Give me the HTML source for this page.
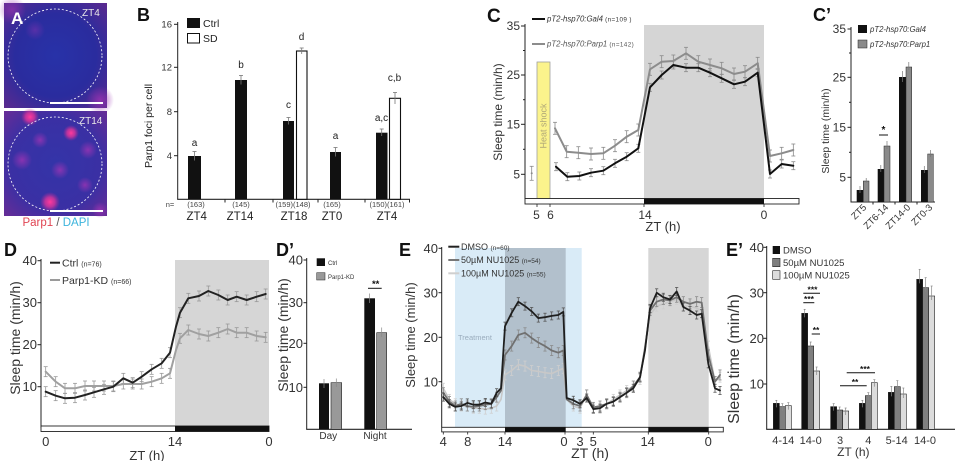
<!DOCTYPE html>
<html><head><meta charset="utf-8">
<style>
html,body{margin:0;padding:0;background:#fff;}
svg{display:block;font-family:"Liberation Sans",Arial,sans-serif;}
</style></head><body>
<svg id="s" width="958" height="461" viewBox="0 0 958 461" xmlns="http://www.w3.org/2000/svg">
<defs>
<radialGradient id="ga" cx="50%" cy="50%" r="72%">
 <stop offset="0" stop-color="#2832a8"/>
 <stop offset="0.55" stop-color="#2a2c9e"/>
 <stop offset="1" stop-color="#5e2a8e"/>
</radialGradient>
<radialGradient id="gb" cx="50%" cy="50%" r="72%">
 <stop offset="0" stop-color="#3434a8"/>
 <stop offset="0.6" stop-color="#3a30a4"/>
 <stop offset="1" stop-color="#6a2c96"/>
</radialGradient>
<radialGradient id="pk"><stop offset="0" stop-color="#ff3a9c" stop-opacity="1"/><stop offset="0.5" stop-color="#f0349a" stop-opacity="0.7"/><stop offset="1" stop-color="#c02c9a" stop-opacity="0"/></radialGradient>
<radialGradient id="pp"><stop offset="0" stop-color="#9c34b4" stop-opacity="0.8"/><stop offset="1" stop-color="#9c34b4" stop-opacity="0"/></radialGradient>
</defs>

<!-- ===== Panel A ===== -->
<rect x="4" y="3" width="103" height="105" fill="url(#ga)"/>
<circle cx="12" cy="10" r="14" fill="url(#pp)" opacity="0.8"/>
<circle cx="100" cy="100" r="14" fill="url(#pp)"/>
<circle cx="35" cy="30" r="10" fill="url(#pp)" opacity="0.5"/>
<circle cx="55" cy="56" r="47" fill="none" stroke="#fff" stroke-width="0.8" stroke-dasharray="2,2"/>
<line x1="50" y1="103" x2="103" y2="103" stroke="#fff" stroke-width="2"/>
<text x="11" y="24" font-size="17" font-weight="bold" fill="#fff">A</text>
<text x="82" y="16" font-size="10" fill="#e8e8e8">ZT4</text>

<rect x="4" y="111" width="103" height="105" fill="url(#gb)"/>
<circle cx="30" cy="117" r="9" fill="url(#pk)"/>
<circle cx="71" cy="133" r="8" fill="url(#pk)"/>
<circle cx="50" cy="202" r="10" fill="url(#pk)"/>
<circle cx="22" cy="160" r="10" fill="url(#pp)"/>
<circle cx="88" cy="150" r="9" fill="url(#pp)"/>
<circle cx="60" cy="170" r="9" fill="url(#pp)"/>
<circle cx="85" cy="185" r="8" fill="url(#pp)"/>
<circle cx="40" cy="140" r="8" fill="url(#pp)"/>
<circle cx="100" cy="210" r="8" fill="url(#pp)"/>
<circle cx="55" cy="164" r="47" fill="none" stroke="#fff" stroke-width="0.8" stroke-dasharray="2,2"/>
<line x1="50" y1="211" x2="103" y2="211" stroke="#fff" stroke-width="2"/>
<text x="79" y="124" font-size="10" fill="#e8e8e8">ZT14</text>
<text x="56" y="226" font-size="11.5" text-anchor="middle"><tspan fill="#e04452">Parp1</tspan><tspan fill="#555"> / </tspan><tspan fill="#3cb4dc">DAPI</tspan></text>

<!-- ===== Panel B ===== -->
<text x="137" y="21" font-size="18" font-weight="bold" fill="#111">B</text>
<line x1="177.7" y1="22" x2="177.7" y2="199.3" stroke="#222" stroke-width="1"/>
<line x1="177.2" y1="199.3" x2="410" y2="199.3" stroke="#222" stroke-width="1.2"/>
<g stroke="#222" stroke-width="1">
<line x1="174" y1="24.3" x2="177.7" y2="24.3"/><line x1="174" y1="67.3" x2="177.7" y2="67.3"/>
<line x1="174" y1="111.7" x2="177.7" y2="111.7"/><line x1="174" y1="155.7" x2="177.7" y2="155.7"/>
<line x1="225" y1="199.3" x2="225" y2="202.5"/><line x1="273" y1="199.3" x2="273" y2="202.5"/>
<line x1="318" y1="199.3" x2="318" y2="202.5"/><line x1="365" y1="199.3" x2="365" y2="202.5"/>
<line x1="409.5" y1="199.3" x2="409.5" y2="202.5"/>
</g>
<g font-size="9.5" fill="#333" text-anchor="end">
<text x="172" y="27.5">16</text><text x="172" y="70.5">12</text><text x="172" y="115">8</text><text x="172" y="159">4</text>
</g>
<text transform="translate(152,126) rotate(-90)" font-size="10.5" fill="#222" text-anchor="middle">Parp1 foci per cell</text>
<rect x="187" y="18" width="13" height="10" fill="#111"/>
<text x="203" y="27" font-size="10.5" fill="#222">Ctrl</text>
<rect x="187.5" y="33.5" width="12" height="9.5" fill="#fff" stroke="#111" stroke-width="1"/>
<text x="203" y="42" font-size="10.5" fill="#222">SD</text>
<g fill="#111">
<rect x="188" y="156" width="13" height="43.3"/>
<rect x="235" y="80" width="12" height="119.3"/>
<rect x="283" y="121" width="11" height="78.3"/>
<rect x="330" y="152" width="11" height="47.3"/>
<rect x="376" y="132.7" width="11.5" height="66.6"/>
</g>
<g fill="#fff" stroke="#111" stroke-width="1.1">
<rect x="296.5" y="51" width="10.5" height="148.3"/>
<rect x="389.5" y="98.3" width="11" height="101"/>
</g>
<g stroke="#777" stroke-width="0.8">
<line x1="194.5" y1="151.5" x2="194.5" y2="160.5"/><line x1="192.5" y1="151.5" x2="196.5" y2="151.5"/>
<line x1="241" y1="75.5" x2="241" y2="84.5"/><line x1="239" y1="75.5" x2="243" y2="75.5"/>
<line x1="288.5" y1="117.5" x2="288.5" y2="124.5"/><line x1="286.5" y1="117.5" x2="290.5" y2="117.5"/>
<line x1="301.7" y1="48" x2="301.7" y2="54"/><line x1="299.7" y1="48" x2="303.7" y2="48"/>
<line x1="335.5" y1="147.5" x2="335.5" y2="156.5"/><line x1="333.5" y1="147.5" x2="337.5" y2="147.5"/>
<line x1="381.7" y1="129" x2="381.7" y2="136"/><line x1="379.7" y1="129" x2="383.7" y2="129"/>
<line x1="395" y1="92.5" x2="395" y2="104"/><line x1="393" y1="92.5" x2="397" y2="92.5"/>
</g>
<g font-size="10" fill="#222" text-anchor="middle">
<text x="194.5" y="146">a</text><text x="241" y="68">b</text><text x="288.5" y="108">c</text>
<text x="301.5" y="40">d</text><text x="335.5" y="139">a</text><text x="381.5" y="121">a,c</text><text x="394.5" y="81">c,b</text>
</g>
<g font-size="7.5" fill="#444" text-anchor="middle">
<text x="170" y="207">n=</text><text x="196" y="207">(163)</text><text x="241" y="207">(145)</text>
<text x="293" y="207">(159)(148)</text><text x="332" y="207">(165)</text><text x="387" y="207">(150)(161)</text>
</g>
<g font-size="11.5" fill="#222" text-anchor="middle">
<text x="196.7" y="220">ZT4</text><text x="240" y="220">ZT14</text><text x="294" y="220">ZT18</text>
<text x="332" y="220">ZT0</text><text x="387" y="220">ZT4</text>
</g>

<!-- ===== Panel C ===== -->
<text x="487" y="22" font-size="19" font-weight="bold" fill="#111">C</text>
<rect x="644" y="25" width="120" height="174" fill="#d5d5d5"/>
<rect x="537" y="62" width="13" height="137" fill="#fbf38c" stroke="#a0a0a0" stroke-width="0.8"/>
<text transform="translate(546.5,126) rotate(-90)" font-size="9" fill="#b0a878" text-anchor="middle">Heat shock</text>
<line x1="525" y1="24" x2="525" y2="199" stroke="#222" stroke-width="1"/>
<g stroke="#222" stroke-width="1">
<line x1="521" y1="26" x2="525" y2="26"/><line x1="521" y1="75" x2="525" y2="75"/>
<line x1="521" y1="124.3" x2="525" y2="124.3"/><line x1="521" y1="174.3" x2="525" y2="174.3"/>
<line x1="523" y1="50.5" x2="525" y2="50.5"/><line x1="523" y1="99.7" x2="525" y2="99.7"/><line x1="523" y1="149.3" x2="525" y2="149.3"/>
</g>
<g font-size="12" fill="#333" text-anchor="end">
<text x="520" y="30">35</text><text x="520" y="79">25</text><text x="520" y="128.5">15</text><text x="520" y="178.5">5</text>
</g>
<text transform="translate(502,112) rotate(-90)" font-size="12" fill="#333" text-anchor="middle">Sleep time (min/h)</text>
<rect x="525" y="198.5" width="274" height="5.5" fill="#fff" stroke="#222" stroke-width="0.9"/>
<rect x="644" y="198.5" width="120" height="5.5" fill="#111"/>
<g stroke="#222" stroke-width="0.8">
<line x1="537" y1="204" x2="537" y2="207"/><line x1="550" y1="204" x2="550" y2="207"/>
<line x1="644" y1="204" x2="644" y2="207"/><line x1="764" y1="204" x2="764" y2="207"/>
</g>
<g font-size="12" fill="#333" text-anchor="middle">
<text x="536.5" y="219">5</text><text x="550.5" y="219">6</text><text x="645" y="219">14</text><text x="764" y="219">0</text>
<text x="663" y="231" font-size="13">ZT (h)</text>
</g>
<g id="cdata"></g>
<line x1="532" y1="19" x2="545" y2="19" stroke="#111" stroke-width="2"/>
<text x="547" y="21.7" font-size="7.8" font-style="italic" fill="#333">pT2-hsp70:Gal4 <tspan font-size="6.3" font-style="normal" letter-spacing="0.4">(n=109 )</tspan></text>
<line x1="532" y1="44" x2="545" y2="44" stroke="#8c8c8c" stroke-width="2"/>
<text x="547" y="46.7" font-size="7.8" font-style="italic" fill="#555">pT2-hsp70:Parp1 <tspan font-size="6.3" font-style="normal" letter-spacing="0.4">(n=142)</tspan></text>

<!-- ===== Panel C' ===== -->
<text x="813" y="21" font-size="18" font-weight="bold" fill="#111">C’</text>
<line x1="851" y1="27" x2="851" y2="202" stroke="#222" stroke-width="1"/>
<line x1="850.5" y1="202" x2="935" y2="202" stroke="#222" stroke-width="1.1"/>
<g stroke="#222" stroke-width="1">
<line x1="847.5" y1="29" x2="851" y2="29"/><line x1="847.5" y1="77.3" x2="851" y2="77.3"/>
<line x1="847.5" y1="127.3" x2="851" y2="127.3"/><line x1="847.5" y1="177.3" x2="851" y2="177.3"/>
<line x1="849" y1="53" x2="851" y2="53"/><line x1="849" y1="102.3" x2="851" y2="102.3"/><line x1="849" y1="152.3" x2="851" y2="152.3"/>
<line x1="873" y1="202" x2="873" y2="204.5"/><line x1="895" y1="202" x2="895" y2="204.5"/><line x1="917" y1="202" x2="917" y2="204.5"/>
</g>
<g font-size="12" fill="#333" text-anchor="end">
<text x="846" y="33">35</text><text x="846" y="81.5">25</text><text x="846" y="131.5">15</text><text x="846" y="181.5">5</text>
</g>
<text transform="translate(829,131) rotate(-90)" font-size="10.5" fill="#333" text-anchor="middle">Sleep time (min/h)</text>
<rect x="858" y="25" width="9" height="8" fill="#111"/>
<text x="870" y="32" font-size="7.8" font-style="italic" fill="#333">pT2-hsp70:Gal4</text>
<rect x="858" y="40" width="9" height="8" fill="#8a8a8a" stroke="#222" stroke-width="0.5"/>
<text x="870" y="47" font-size="7.8" font-style="italic" fill="#333">pT2-hsp70:Parp1</text>
<g fill="#111">
<rect x="856.7" y="190" width="6.6" height="12"/>
<rect x="877.7" y="169" width="6.3" height="33"/>
<rect x="899" y="77" width="7" height="125"/>
<rect x="921" y="170" width="6.7" height="32"/>
</g>
<g fill="#8a8a8a" stroke="#222" stroke-width="0.5">
<rect x="863.3" y="181" width="5.7" height="21"/>
<rect x="884" y="146" width="6" height="56"/>
<rect x="906" y="67" width="5.7" height="135"/>
<rect x="927.7" y="154" width="5.6" height="48"/>
</g>
<g stroke="#777" stroke-width="0.7">
<line x1="860" y1="186" x2="860" y2="193"/><line x1="866.2" y1="178" x2="866.2" y2="183"/>
<line x1="880.8" y1="165" x2="880.8" y2="172"/><line x1="887" y1="141" x2="887" y2="149"/>
<line x1="902.5" y1="71" x2="902.5" y2="82"/><line x1="908.8" y1="62" x2="908.8" y2="70"/>
<line x1="924.3" y1="166" x2="924.3" y2="173"/><line x1="930.5" y1="150" x2="930.5" y2="157"/>
</g>
<line x1="879" y1="135" x2="888" y2="135" stroke="#111" stroke-width="1"/>
<text x="883.5" y="133" font-size="10" font-weight="bold" fill="#111" text-anchor="middle">*</text>
<g font-size="9.5" fill="#333" text-anchor="end">
<text transform="translate(867,208) rotate(-45)">ZT5</text>
<text transform="translate(889,208) rotate(-45)">ZT6-14</text>
<text transform="translate(911,208) rotate(-45)">ZT14-0</text>
<text transform="translate(933,208) rotate(-45)">ZT0-3</text>
</g>

<!-- ===== Panel D ===== -->
<text x="4" y="256" font-size="18" font-weight="bold" fill="#111">D</text>
<rect x="175" y="260" width="94" height="166" fill="#d6d6d6"/>
<line x1="41" y1="259" x2="41" y2="428" stroke="#222" stroke-width="1"/>
<g stroke="#222" stroke-width="1">
<line x1="37.5" y1="260.7" x2="41" y2="260.7"/><line x1="37.5" y1="302.7" x2="41" y2="302.7"/>
<line x1="37.5" y1="344.7" x2="41" y2="344.7"/><line x1="37.5" y1="386.7" x2="41" y2="386.7"/>
</g>
<g font-size="13" fill="#333" text-anchor="end">
<text x="37" y="265">40</text><text x="37" y="307">30</text><text x="37" y="349">20</text><text x="37" y="391">10</text>
</g>
<text transform="translate(20,338) rotate(-90)" font-size="14" fill="#333" text-anchor="middle">Sleep time (min/h)</text>
<rect x="41" y="426" width="228" height="5.5" fill="#fff" stroke="#222" stroke-width="0.9"/>
<rect x="175" y="426" width="94" height="5.5" fill="#111"/>
<g font-size="13" fill="#333" text-anchor="middle">
<text x="45.7" y="446">0</text><text x="175" y="446">14</text><text x="269" y="446">0</text>
<text x="147" y="460">ZT (h)</text>
</g>
<g id="ddata"></g>
<line x1="50" y1="262.7" x2="60" y2="262.7" stroke="#222" stroke-width="2"/>
<text x="62" y="266.5" font-size="10.5" fill="#333">Ctrl <tspan font-size="7">(n=76)</tspan></text>
<line x1="50" y1="280" x2="60" y2="280" stroke="#9a9a9a" stroke-width="2"/>
<text x="62" y="284" font-size="10.5" fill="#333">Parp1-KD <tspan font-size="7">(n=66)</tspan></text>

<!-- ===== Panel D' ===== -->
<text x="276" y="256" font-size="18" font-weight="bold" fill="#111">D’</text>
<line x1="306.7" y1="258" x2="306.7" y2="429.3" stroke="#222" stroke-width="1"/>
<line x1="306.2" y1="429.3" x2="412" y2="429.3" stroke="#222" stroke-width="1.1"/>
<g stroke="#222" stroke-width="1">
<line x1="303.5" y1="260" x2="306.7" y2="260"/><line x1="303.5" y1="302.7" x2="306.7" y2="302.7"/>
<line x1="303.5" y1="343.3" x2="306.7" y2="343.3"/><line x1="303.5" y1="387.3" x2="306.7" y2="387.3"/>
</g>
<g font-size="13" fill="#333" text-anchor="end">
<text x="303" y="264.5">40</text><text x="303" y="307">30</text><text x="303" y="348">20</text><text x="303" y="392">10</text>
</g>
<text transform="translate(288,335) rotate(-90)" font-size="14" fill="#333" text-anchor="middle">Sleep time (min/h)</text>
<rect x="316.7" y="258.3" width="8.3" height="7.7" fill="#111"/>
<text x="328" y="265" font-size="6" fill="#333">Ctrl</text>
<rect x="316.7" y="272.7" width="8.3" height="7.3" fill="#999" stroke="#222" stroke-width="0.5"/>
<text x="328" y="279" font-size="6" fill="#333">Parp1-KD</text>
<rect x="319" y="383.3" width="10" height="46" fill="#111"/>
<rect x="331" y="382.7" width="10.7" height="46.6" fill="#999" stroke="#222" stroke-width="0.6"/>
<rect x="364.3" y="298.3" width="10.7" height="131" fill="#111"/>
<rect x="376.7" y="332.7" width="10" height="96.6" fill="#999" stroke="#222" stroke-width="0.6"/>
<g stroke="#888" stroke-width="0.7">
<line x1="324" y1="379" x2="324" y2="388"/><line x1="336.3" y1="378.5" x2="336.3" y2="387"/>
<line x1="369.6" y1="293.5" x2="369.6" y2="303"/><line x1="381.7" y1="327.5" x2="381.7" y2="337"/>
</g>
<line x1="368" y1="288.3" x2="381.7" y2="288.3" stroke="#111" stroke-width="1"/>
<text x="375.7" y="287" font-size="9.5" font-weight="bold" fill="#111" text-anchor="middle">**</text>
<g font-size="10" fill="#333" text-anchor="middle">
<text x="328.3" y="439">Day</text><text x="375" y="439">Night</text>
</g>

<!-- ===== Panel E ===== -->
<text x="399" y="256" font-size="18" font-weight="bold" fill="#111">E</text>
<rect x="455" y="248" width="126.7" height="179" fill="#d9ebf7"/>
<rect x="505" y="248" width="60.7" height="179" fill="#b2c0cc"/>
<rect x="648.3" y="248" width="60.4" height="179" fill="#d6d6d6"/>
<text x="458" y="340" font-size="7.5" fill="#9aacbd">Treatment</text>
<line x1="441.7" y1="247" x2="441.7" y2="427.3" stroke="#222" stroke-width="1"/>
<g stroke="#222" stroke-width="1">
<line x1="438.5" y1="248.3" x2="441.7" y2="248.3"/><line x1="438.5" y1="292.7" x2="441.7" y2="292.7"/>
<line x1="438.5" y1="337.3" x2="441.7" y2="337.3"/><line x1="438.5" y1="381.7" x2="441.7" y2="381.7"/>
</g>
<g font-size="13" fill="#333" text-anchor="end">
<text x="438" y="253">40</text><text x="438" y="297.5">30</text><text x="438" y="342">20</text><text x="438" y="386.5">10</text>
</g>
<text transform="translate(415,335) rotate(-90)" font-size="13" fill="#333" text-anchor="middle">Sleep time (min/h)</text>
<rect x="441.7" y="427.3" width="281.6" height="4.6" fill="#fff" stroke="#222" stroke-width="0.9"/>
<rect x="505" y="427.3" width="60.7" height="4.6" fill="#111"/>
<rect x="648.3" y="427.3" width="60.4" height="4.6" fill="#111"/>
<g stroke="#222" stroke-width="0.8">
<line x1="443.3" y1="431.9" x2="443.3" y2="434.5"/><line x1="467.7" y1="431.9" x2="467.7" y2="434.5"/>
<line x1="505" y1="431.9" x2="505" y2="434.5"/><line x1="565" y1="431.9" x2="565" y2="434.5"/>
<line x1="581" y1="431.9" x2="581" y2="434.5"/><line x1="593.3" y1="431.9" x2="593.3" y2="434.5"/>
<line x1="648.3" y1="431.9" x2="648.3" y2="434.5"/><line x1="708.7" y1="431.9" x2="708.7" y2="434.5"/>
</g>
<g font-size="13" fill="#333" text-anchor="middle">
<text x="443.3" y="446">4</text><text x="467.7" y="446">8</text><text x="505" y="446">14</text>
<text x="564" y="446">0</text><text x="580" y="446">3</text><text x="593.3" y="446">5</text>
<text x="647.7" y="446">14</text><text x="708.3" y="446">0</text>
<text x="590" y="458" font-size="14">ZT (h)</text>
</g>
<g id="edata"></g>
<line x1="448.3" y1="246.7" x2="459.3" y2="246.7" stroke="#222" stroke-width="2"/>
<text x="461" y="249.8" font-size="9" fill="#333">DMSO <tspan font-size="6.5">(n=60)</tspan></text>
<line x1="448.3" y1="260" x2="459.3" y2="260" stroke="#777" stroke-width="2"/>
<text x="461" y="263.2" font-size="9" fill="#333">50µM NU1025 <tspan font-size="6.5">(n=54)</tspan></text>
<line x1="448.3" y1="273.3" x2="459.3" y2="273.3" stroke="#cfcfcf" stroke-width="2"/>
<text x="461" y="276.5" font-size="9" fill="#333">100µM NU1025 <tspan font-size="6.5">(n=55)</tspan></text>

<!-- ===== Panel E' ===== -->
<text x="726" y="256" font-size="18" font-weight="bold" fill="#111">E’</text>
<line x1="766.7" y1="246" x2="766.7" y2="429.3" stroke="#222" stroke-width="1"/>
<line x1="766.2" y1="429.3" x2="955" y2="429.3" stroke="#222" stroke-width="1.2"/>
<g stroke="#222" stroke-width="1">
<line x1="763.5" y1="247.3" x2="766.7" y2="247.3"/><line x1="763.5" y1="292.7" x2="766.7" y2="292.7"/>
<line x1="763.5" y1="338.3" x2="766.7" y2="338.3"/><line x1="763.5" y1="384" x2="766.7" y2="384"/>
</g>
<g font-size="13" fill="#333" text-anchor="end">
<text x="764" y="252">40</text><text x="764" y="297.5">30</text><text x="764" y="343">20</text><text x="764" y="388.5">10</text>
</g>
<text transform="translate(739,359) rotate(-90)" font-size="16" fill="#333" text-anchor="middle">Sleep time (min/h)</text>
<rect x="772.7" y="246" width="7.3" height="8" fill="#111"/>
<text x="783" y="253.5" font-size="9.5" fill="#333">DMSO</text>
<rect x="772.7" y="258.3" width="7.3" height="8.4" fill="#7f7f7f" stroke="#222" stroke-width="0.6"/>
<text x="783" y="266" font-size="9.5" fill="#333">50µM NU1025</text>
<rect x="772.7" y="270.7" width="7.3" height="8.6" fill="#dcdcdc" stroke="#222" stroke-width="0.6"/>
<text x="783" y="278.5" font-size="9.5" fill="#333">100µM NU1025</text>
<g id="epdata"></g>
<g stroke="#111" stroke-width="1">
<line x1="803.3" y1="293.3" x2="820" y2="293.3"/>
<line x1="803.3" y1="302.7" x2="814.3" y2="302.7"/>
<line x1="811.7" y1="334" x2="820" y2="334"/>
<line x1="846.7" y1="372.7" x2="875" y2="372.7"/>
<line x1="840" y1="385.7" x2="866.7" y2="385.7"/>
</g>
<g font-size="8.5" font-weight="bold" fill="#111" text-anchor="middle">
<text x="812.5" y="292.5">***</text><text x="809" y="302">***</text><text x="816" y="333">**</text>
<text x="865" y="372">***</text><text x="855" y="385">**</text>
</g>
<g font-size="11" fill="#333" text-anchor="middle">
<text x="783.3" y="444">4-14</text><text x="810.7" y="444">14-0</text><text x="840" y="444">3</text>
<text x="868.3" y="444">4</text><text x="896.7" y="444">5-14</text><text x="925" y="444">14-0</text>
<text x="853.3" y="456" font-size="12">ZT (h)</text>
</g>

<script>
(function(){
const NS="http://www.w3.org/2000/svg";
function el(tag,a,p){const e=document.createElementNS(NS,tag);for(const k in a)e.setAttribute(k,a[k]);p.appendChild(e);return e;}
function pl(pts,c,w,g){el('polyline',{points:pts.map(p=>p[0].toFixed(1)+','+p[1].toFixed(1)).join(' '),fill:'none',stroke:c,'stroke-width':w,'stroke-linejoin':'round','stroke-linecap':'round'},g);}
function eb(pts,e,c,w,cap,g){for(const p of pts){const x=p[0],y=p[1];
 el('line',{x1:x,x2:x,y1:y-e,y2:y+e,stroke:c,'stroke-width':w},g);
 el('line',{x1:x-cap,x2:x+cap,y1:y-e,y2:y-e,stroke:c,'stroke-width':w},g);
 el('line',{x1:x-cap,x2:x+cap,y1:y+e,y2:y+e,stroke:c,'stroke-width':w},g);}}

/* Panel C */
const gc=document.getElementById('cdata');
const cxb=[678,712,748,783,820,855,890,925,960,995,1030,1068,1105,1140,1175,1212,1245,1283,1320,1355,1390];
const cyb=[166.7,176.7,176,172.7,170.7,163.3,156.7,148.3,87.3,75,65,67.7,67.7,72.7,78.3,84.3,81.7,72.7,174,164,165.7];
const cxg=[675,710,745,783,820,855,890,925,960,995,1030,1068,1105,1140,1175,1212,1245,1283,1320,1355,1390];
const cyg=[128.3,151.7,152.7,154,153.3,145.7,136.7,130,69.3,61.7,61,53.3,61.7,65,68.3,74,71.7,63.3,156,153.3,150];
const pb=cxb.map((x,i)=>[330+x/3,cyb[i]]), pg=cxg.map((x,i)=>[330+x/3,cyg[i]]);
eb(pg,6,'#8a8a8a',0.8,2,gc); eb(pb,4,'#8a8a8a',0.8,2,gc);
eb([[531.7,173.3]],7,'#8a8a8a',0.8,2,gc);
el('circle',{cx:531.7,cy:173.3,r:1,fill:'#8a8a8a'},gc);
pl(pg.slice(0,18),'#8c8c8c',2,gc); pl(pg.slice(17),'#8c8c8c',2,gc);
pl(pb,'#111',2,gc);

/* Panel D */
const gd=document.getElementById('ddata');
const dx=[137,167,195,225,255,282,312,340,370,398,425,455,485,510,528,540,565,597,625,655,683,710,740,770,797];
const dyb=[485,497,505,503,495,487,478,470,445,458,440,418,400,368,290,248,205,198,183,195,210,200,210,200,192];
const dyg=[425,455,475,475,468,468,468,468,462,462,462,455,445,430,360,325,300,312,318,308,297,308,308,318,322];
const db=dx.map((x,i)=>[x/3,230+dyb[i]/3]), dg=dx.map((x,i)=>[x/3,230+dyg[i]/3]);
const dbe=db.filter((p,i)=>i!==14), dge=dg.filter((p,i)=>i!==14);
eb(dge,5,'#999',0.8,2,gd); eb(dbe,5,'#999',0.8,2,gd);
pl(dg,'#a0a0a0',2,gd); pl(db,'#222',2,gd);

/* Panel E */
const ge=document.getElementById('edata');
const ex=[70,88,106,124,142,160,178,196,214,230,243,255,275,295,315,335,355,375,395,415,430,440,460,480,500,520,540,560,580,600,620,640,660,675,690,710,730,750,770,790,810,830,845,865,885,900];
const v1=[6.5,5,4.3,4.5,5.2,4.8,4.8,5.3,5,7.5,8.5,22.5,25.5,28,27,25.8,24.3,24.5,24.8,25,25.7,6.3,5.8,5,6.3,3.8,4,5,5.5,6.5,7.5,8.5,11,17,26.5,30,29,28.5,30.3,26.8,26,25,25.3,14,8.5,8];
const v2=[7.5,5.5,4.5,5,4.5,4.3,4.5,4.8,5,6.5,8,16,18,20.5,21,19.8,18.8,18,17,16.5,17,6,5,4.5,7,4.2,4.5,5,5.5,6.5,7.5,9,11,17.5,26,28,28.5,28.3,29,28,27.5,28,27.8,16,10,11.5];
const v3=[8.5,6,5,4.5,4.5,4,4,3.8,4,4.5,6,11.5,12.5,13.8,13.5,12.5,12.3,12,11.8,12.5,13,6,4.5,4,7,4,4,5,6,7,8,9,10.5,18,25,27,27.5,28,28.5,27,27,26.5,26,18,10,11];
const E=(v)=>ex.map((x,i)=>[420+x/3,426-4.44*v[i]]);
const e1=E(v1),e2=E(v2),e3=E(v3);
const skip=(a)=>a.filter((p,i)=>i!==10&&i!==21&&i!==33);
eb(skip(e3),5,'#cfcfcf',0.8,1.6,ge); pl(e3,'#c8c8c8',1.6,ge);
eb(skip(e2),5,'#8a8a8a',0.8,1.6,ge); pl(e2,'#707070',1.8,ge);
eb(skip(e1),4,'#555',0.8,1.6,ge); pl(e1,'#1e1e1e',1.8,ge);

/* Panel E' */
const gp=document.getElementById('epdata');
const bars=[[160,520,0],[178,530,1],[196,527,2],[245,250,0],[263,348,1],[281,423,2],[332,530,0],[350,540,1],[368,543,2],
[418,520,0],[436,497,1],[454,458,2],[505,487,0],[523,470,1],[541,492,2],[590,148,0],[608,173,1],[626,198,2]];
const fills=['#111','#7f7f7f','#dcdcdc'];
bars.forEach((b,i)=>{const x=720+b[0]/3,top=230+b[1]/3;
 el('rect',{x:x,y:top,width:6,height:429.3-top,fill:fills[b[2]],stroke:'#222','stroke-width':0.6},gp);
 const e=(i>=15)?10:(i>=3&&i<=5?4:((i>=12&&i<=14)?6:3));
 el('line',{x1:x+3,x2:x+3,y1:top-e,y2:top+4,stroke:'#888','stroke-width':0.7},gp);
 el('line',{x1:x+2,x2:x+4,y1:top-e,y2:top-e,stroke:'#888','stroke-width':0.7},gp);
});
})();
</script>
</svg>
</body></html>
